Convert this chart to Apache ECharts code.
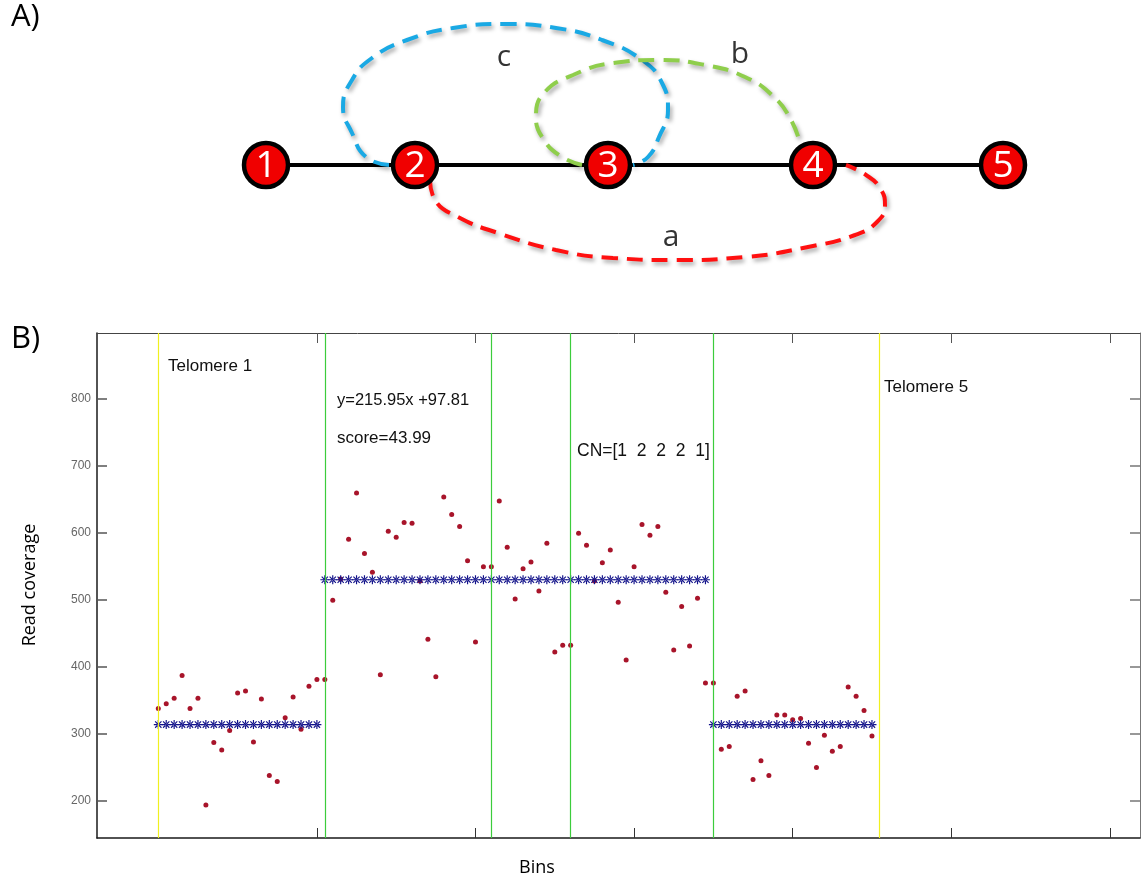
<!DOCTYPE html>
<html>
<head>
<meta charset="utf-8">
<script src="https://cdn.jsdelivr.net/npm/echarts@6/dist/echarts.min.js"></script>
<style>html,body{margin:0;padding:0;background:#fff;}#c{width:1142px;height:881px;}</style>
</head>
<body>
<div id="c"></div>
<script>
// ---------- Panel B data ----------
const xTickValues = [20, 40, 60, 80, 100, 120];
const yTickValues = [200, 300, 400, 500, 600, 700, 800];
// read coverage per bin (bin index = array position)
const coverage = [
  338, 345, 353, 387, 338, 353, 194, 287, 276, 305,
  361, 364, 288, 352, 238, 229, 324, 355, 307, 371,
  381, 381, 499, 531, 590, 659, 569, 541, 388, 602,
  593, 615, 614, 528, 441, 385, 653, 627, 609, 558,
  437, 549, 549, 647, 578, 501, 546, 556, 513, 584,
  422, 432, 432, 599, 581, 528, 555, 574, 496, 410,
  549, 612, 596, 609, 511, 425, 490, 431, 502, 376,
  376, 277, 281, 356, 364, 232, 260, 238, 328, 328,
  321, 323, 286, 250, 298, 274, 281, 370, 356, 335,
  297
];
// fitted copy-number level segments (blue stars)
const fitStart = [0, 21, 70];
const fitEnd = [20, 69, 90];
const fitLevel = [313.8, 529.7, 313.8];
// breakpoints
const greenLines = [21.06, 41.99, 51.96, 70.0];
const yellowLines = [0, 90.97];

// ---------- Panel A data (diagram) ----------
const nodeNames = ['1', '2', '3', '4', '5'];
const nodeX = [266, 415, 608, 813, 1003];
const nodeY = [165, 165, 165, 165, 165];
const loopC = [[389,165],[366,157],[352,133],[343,107],[352,80],[372,58],[407,40],[453,28],[504,24],[556,28],[602,40],[642,60],[662,83],[668,110],[659,137],[648,157],[633,165]];
const loopB = [[582,165],[562,157],[544,140],[536,117],[544,93],[573,75],[613,63],[659,60],[705,65],[745,77],[774,97],[791,120],[800,143]];
const loopA = [[430,180],[435,200],[458,217],[498,233],[556,250],[613,258],[676,260],[745,257],[808,247],[855,235],[877,222],[885,205],[880,188],[866,175],[846,165]];
const loopLabels = ['c', 'b', 'a'];
const loopLabelPos = [[504,57], [740,54], [671,237]];

const chart = echarts.init(document.getElementById('c'), null, {renderer: 'canvas'});

const starPath = 'path://M-0.13,-1L0.13,-1L0.13,1L-0.13,1Z M-1,-0.13L1,-0.13L1,0.13L-1,0.13Z M-0.61,-0.79L0.79,0.61L0.61,0.79L-0.79,-0.61Z M-0.61,0.79L0.79,-0.61L0.61,-0.79L-0.79,0.61Z';

const redData = coverage.map((v, i) => [i, v]);
const starData = [];
for (let s = 0; s < fitStart.length; s++) {
  for (let b = fitStart[s]; b <= fitEnd[s]; b++) starData.push([b, fitLevel[s]]);
}
const vLines = greenLines.map(v => ({xAxis: v, lineStyle: {color: '#3ccc3c'}}))
  .concat(yellowLines.map(v => ({xAxis: v, lineStyle: {color: '#f0f020'}})));

const dashStyle = (color) => ({
  color: color, width: 4, type: [16, 9],
  shadowColor: 'rgba(0,0,0,0.35)', shadowBlur: 4, shadowOffsetX: 2, shadowOffsetY: 3
});

const option = {
  animation: false,
  backgroundColor: '#fff',
  grid: [
    {left: 97, top: 333, right: 2, bottom: 43, containLabel: false, outerBoundsMode: 'none'},
    {left: 0, top: 0, width: 1142, height: 300, containLabel: false, outerBoundsMode: 'none'}
  ],
  xAxis: [
    {gridIndex: 0, type: 'value', min: -7.73, max: 123.8, position: 'bottom',
      axisLine: {show: true, onZero: false, lineStyle: {color: '#1a1a1a', width: 1.5}},
      axisTick: {show: true, inside: true, length: 10, customValues: xTickValues, lineStyle: {color: '#333', width: 1}},
      axisLabel: {show: false}, splitLine: {show: false}},
    {gridIndex: 0, type: 'value', min: -7.73, max: 123.8, position: 'top',
      axisLine: {show: true, onZero: false, lineStyle: {color: '#444', width: 1}},
      axisTick: {show: true, inside: true, length: 10, customValues: xTickValues, lineStyle: {color: '#555', width: 1}},
      axisLabel: {show: false}, splitLine: {show: false}},
    {gridIndex: 1, type: 'value', min: 0, max: 1142, show: false}
  ],
  yAxis: [
    {gridIndex: 0, type: 'value', min: 144.8, max: 897.5, position: 'left',
      axisLine: {show: true, onZero: false, lineStyle: {color: '#1a1a1a', width: 1.5}},
      axisTick: {show: true, inside: true, length: 10, customValues: yTickValues, lineStyle: {color: '#555', width: 1.5}},
      axisLabel: {show: true, customValues: yTickValues, margin: 6, color: '#666', fontSize: 12, fontFamily: 'Liberation Sans'},
      splitLine: {show: false}},
    {gridIndex: 0, type: 'value', min: 144.8, max: 897.5, position: 'right',
      axisLine: {show: true, onZero: false, lineStyle: {color: '#777', width: 1}},
      axisTick: {show: true, inside: true, length: 10, customValues: yTickValues, lineStyle: {color: '#777', width: 1.5}},
      axisLabel: {show: false}, splitLine: {show: false}},
    {gridIndex: 1, type: 'value', min: 0, max: 300, inverse: true, show: false}
  ],
  series: [
    {type: 'line', xAxisIndex: 0, yAxisIndex: 0, data: [], z: 1,
      markLine: {silent: true, symbol: 'none', label: {show: false}, lineStyle: {type: 'solid', width: 1.2}, data: vLines}},
    {type: 'scatter', xAxisIndex: 0, yAxisIndex: 0, data: redData, symbol: 'circle', symbolSize: 5,
      itemStyle: {color: '#a8142a', opacity: 1}, z: 3},
    {type: 'scatter', xAxisIndex: 0, yAxisIndex: 0, data: starData, symbol: starPath, symbolSize: 9,
      itemStyle: {color: '#12128a', opacity: 1}, z: 4},
    // diagram
    {type: 'line', xAxisIndex: 2, yAxisIndex: 2, data: [[nodeX[0], nodeY[0]], [nodeX[4], nodeY[4]]],
      symbol: 'none', lineStyle: {color: '#000', width: 4}, z: 2},
    {type: 'line', xAxisIndex: 2, yAxisIndex: 2, data: loopC, smooth: 0.5, symbol: 'none', lineStyle: dashStyle('#1aa9e4'), z: 3},
    {type: 'line', xAxisIndex: 2, yAxisIndex: 2, data: loopB, smooth: 0.5, symbol: 'none', lineStyle: dashStyle('#8fce4c'), z: 3},
    {type: 'line', xAxisIndex: 2, yAxisIndex: 2, data: loopA, smooth: 0.5, symbol: 'none', lineStyle: dashStyle('#ff1010'), z: 3},
    {type: 'scatter', xAxisIndex: 2, yAxisIndex: 2, z: 5,
      data: nodeNames.map((n, i) => ({value: [nodeX[i], nodeY[i]], name: n})),
      symbol: 'circle', symbolSize: 44,
      itemStyle: {color: '#f00000', borderColor: '#000', borderWidth: 4.5, opacity: 1},
      label: {show: true, position: 'inside', formatter: p => p.name, color: '#fff', fontSize: 37, fontFamily: 'Open Sans', offset: [0, 1]}},
    {type: 'scatter', xAxisIndex: 2, yAxisIndex: 2, z: 6,
      data: loopLabels.map((n, i) => ({value: loopLabelPos[i], name: n})),
      symbolSize: 0,
      label: {show: true, position: 'inside', formatter: p => p.name, color: '#000', fontSize: 30, fontFamily: 'Open Sans'}}
  ],
  graphic: [
    {type: 'text', left: 11, top: 2, style: {text: 'A)', fontSize: 31, fontFamily: 'Open Sans', fill: '#000'}},
    {type: 'text', left: 11, top: 324, style: {text: 'B)', fontSize: 31, fontFamily: 'Open Sans', fill: '#000'}},
    {type: 'text', x: 168, y: 366, style: {text: 'Telomere 1', fontSize: 17, fontFamily: 'Liberation Sans', fill: '#111', textVerticalAlign: 'middle'}},
    {type: 'text', x: 337, y: 400, style: {text: 'y=215.95x +97.81', fontSize: 16.5, fontFamily: 'Liberation Sans', fill: '#111', textVerticalAlign: 'middle'}},
    {type: 'text', x: 337, y: 438, style: {text: 'score=43.99', fontSize: 17, fontFamily: 'Liberation Sans', fill: '#111', textVerticalAlign: 'middle'}},
    {type: 'text', x: 577, y: 451, style: {text: 'CN=[1  2  2  2  1]', fontSize: 17.5, fontFamily: 'Liberation Sans', fill: '#111', textVerticalAlign: 'middle'}},
    {type: 'text', x: 884, y: 387, style: {text: 'Telomere 5', fontSize: 17, fontFamily: 'Liberation Sans', fill: '#111', textVerticalAlign: 'middle'}},
    {type: 'text', x: 30, y: 585, rotation: Math.PI / 2, style: {text: 'Read coverage', fontSize: 18, fontFamily: 'Open Sans', fill: '#000', textAlign: 'center', textVerticalAlign: 'middle'}},
    {type: 'text', x: 537, y: 868, style: {text: 'Bins', fontSize: 18, fontFamily: 'Open Sans', fill: '#000', textAlign: 'center', textVerticalAlign: 'middle'}}
  ]
};
chart.setOption(option);
</script>
</body>
</html>
